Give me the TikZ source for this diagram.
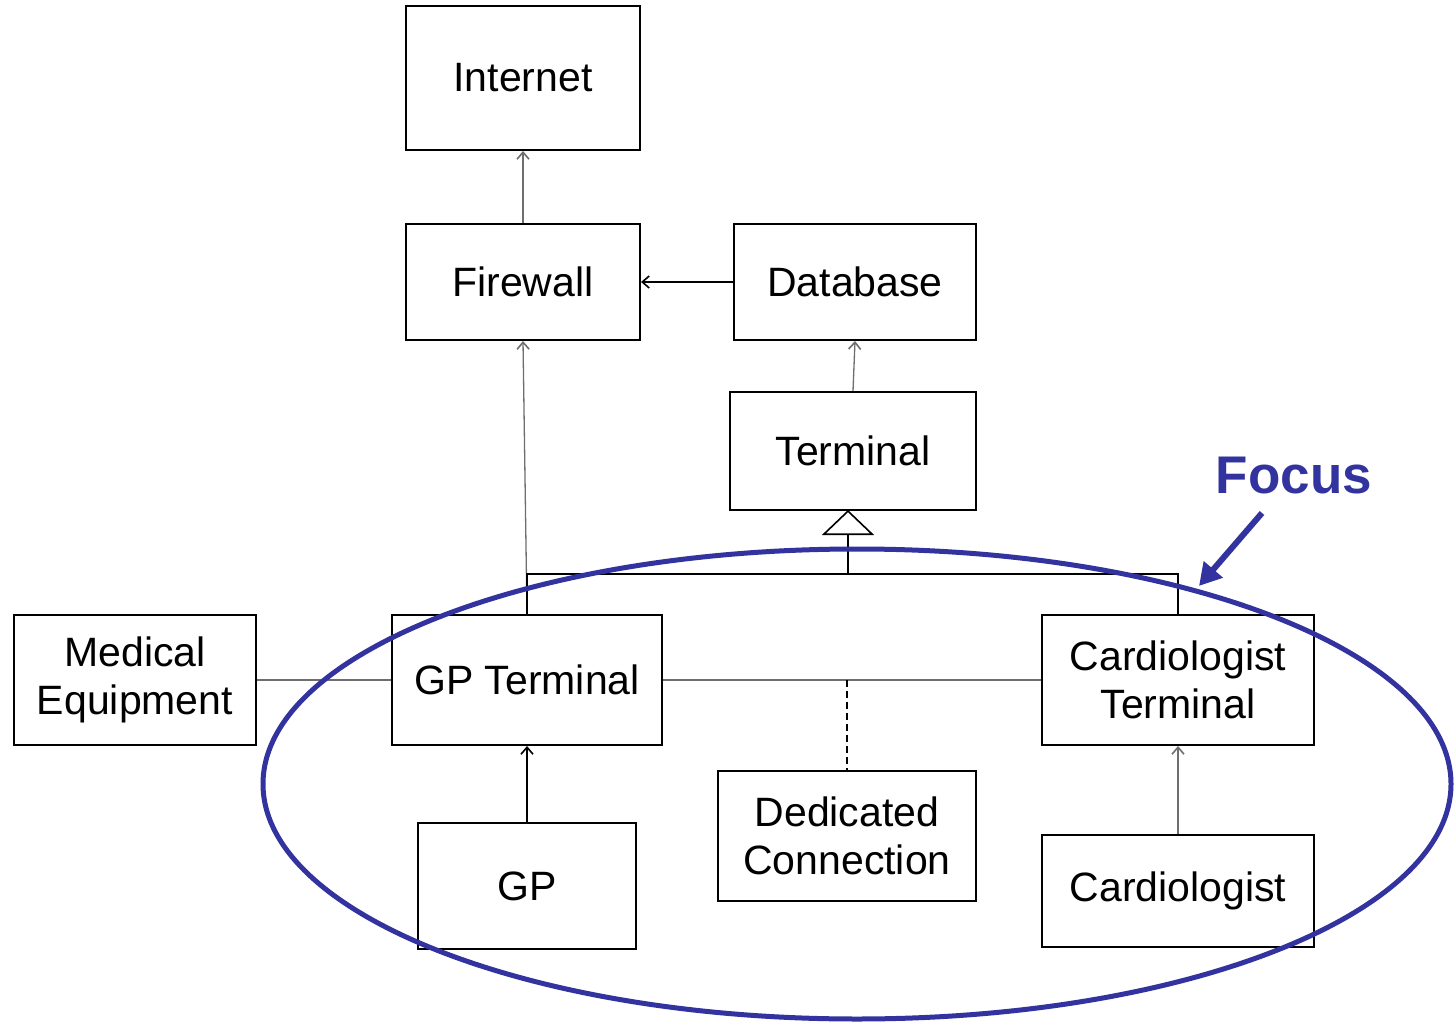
\documentclass[tikz,border=0pt]{standalone}
\usepackage{fontspec}
\setmainfont{Liberation Sans}
\usetikzlibrary{arrows.meta}
\definecolor{focusblue}{RGB}{51,51,160}
\definecolor{conngray}{RGB}{110,110,110}
\begin{document}
\begin{tikzpicture}[x=1pt,y=-1pt,
  box/.style={draw=black, line width=2pt, inner sep=0pt, align=center,
    font=\fontsize{41}{48}\selectfont},
  conn/.style={draw=conngray, line width=1.3pt},
  tip/.style={-{Straight Barb[length=7pt,width=12pt,line width=1.6pt]}},
  focusline/.style={draw=focusblue, line width=5pt}]
\useasboundingbox (0,0) rectangle (1454,1022);
% boxes
\node[box, minimum width=234pt, minimum height=144pt] (internet) at (523,78) {Internet};
\node[box, minimum width=234pt, minimum height=116pt] (firewall) at (523,282) {Firewall};
\node[box, minimum width=242pt, minimum height=116pt] (database) at (855,282) {Database};
\node[box, minimum width=246pt, minimum height=118pt] (terminal) at (853,451) {Terminal};
\node[box, minimum width=242pt, minimum height=130pt] (medical) at (135,680) {Medical\\Equipment};
\node[box, minimum width=270pt, minimum height=130pt] (gpt) at (527,680) {GP Terminal};
\node[box, minimum width=272pt, minimum height=130pt] (ct) at (1178,680) {Cardiologist\\Terminal};
\node[box, minimum width=218pt, minimum height=126pt] (gp) at (527,886) {GP};
\node[box, minimum width=258pt, minimum height=130pt] (dc) at (847,836) {Dedicated\\Connection};
\node[box, minimum width=272pt, minimum height=112pt] (card) at (1178,891) {Cardiologist};
% connectors
\draw[conn,tip] (firewall.north) -- (internet.south);
\draw[conn,tip,draw=black] (database.west) -- (firewall.east);
\draw[conn,tip] (terminal.north) -- (database.south);
\draw[conn,tip] (gpt.north) -- (firewall.south);
\draw[conn] (medical.east) -- (gpt.west);
\draw[conn] (gpt.east) -- (ct.west);
\coordinate (mid) at (dc.north |- gpt.east);
\draw[conn, draw=black, dash pattern=on 7pt off 4pt] (mid) -- (dc.north);
\draw[conn,tip,draw=black] (gp.north) -- (gpt.south);
\draw[conn,tip] (card.north) -- (ct.south);
% generalisation
\coordinate (j) at (848,574);
\coordinate (tri) at (848,510);
\draw[black, line width=1.6pt] (gpt.north) |- (j) -| (ct.north);
\draw[black, line width=1.6pt, -{Triangle[open,length=25pt,width=52pt,line width=1.6pt]}] (j) -- (tri);
% focus
\draw[focusline] (857,784) ellipse [x radius=594pt, y radius=235pt];
\node[text=focusblue, font=\bfseries\fontsize{53}{56}\selectfont] (focus) at (1294,476) {Focus};
\coordinate (fa) at (1262,513);
\coordinate (fb) at (1199,586);
\draw[draw=focusblue, line width=6pt, -{Triangle[length=22pt,width=24pt]}] (fa) -- (fb);
\end{tikzpicture}
\end{document}
